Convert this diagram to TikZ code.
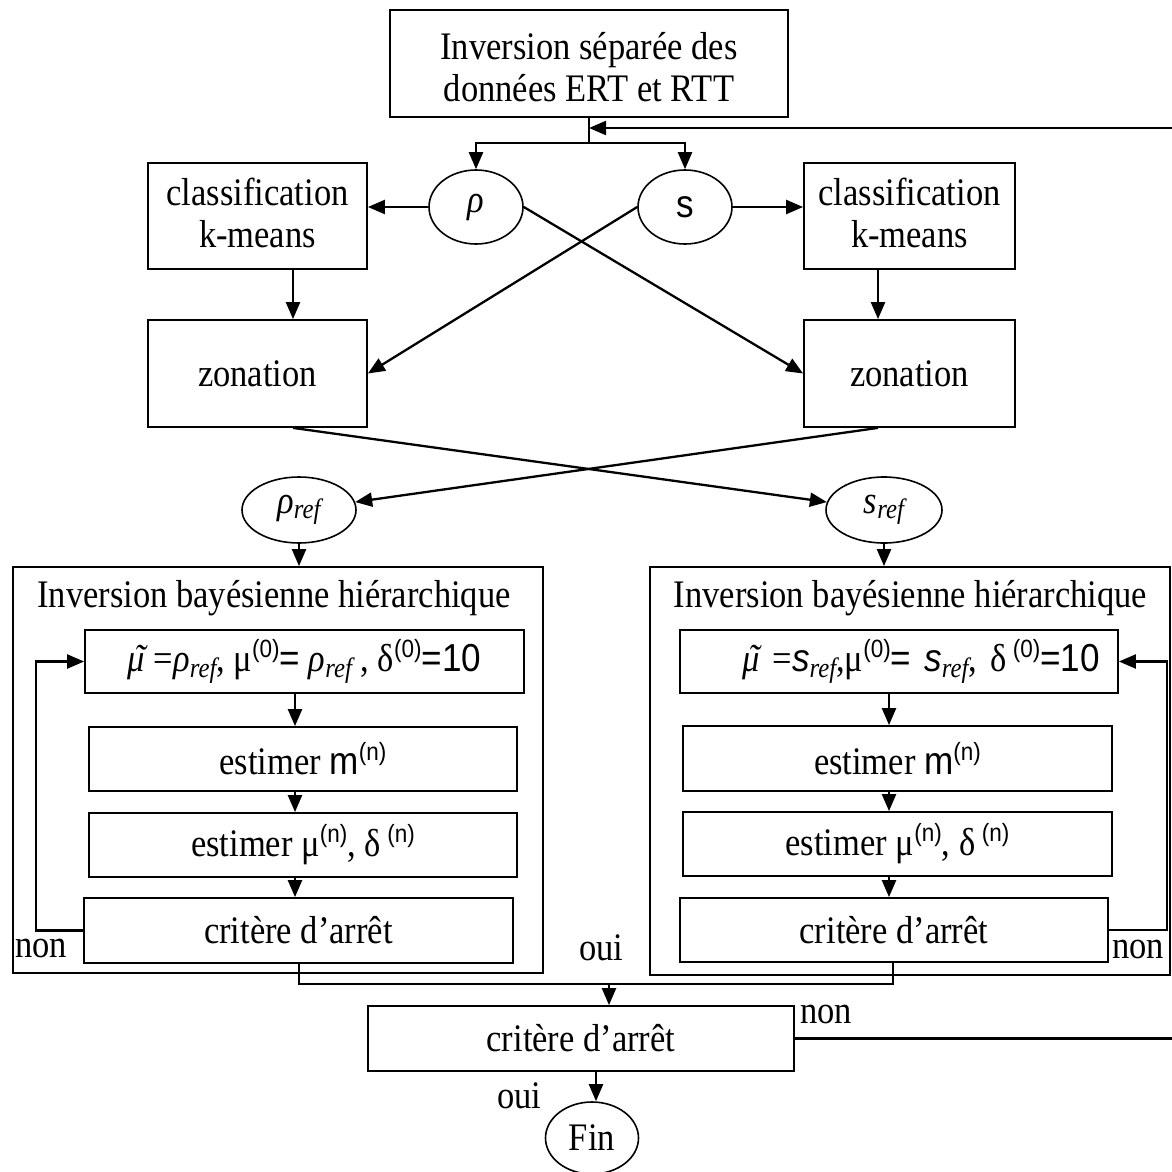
\documentclass[tikz,border=0pt]{standalone}
\usepackage{fontspec}
\setmainfont{Liberation Serif}[FakeStretch=0.885]
\newfontfamily\sansf{Liberation Sans}[FakeStretch=0.9]
\usetikzlibrary{arrows.meta,shapes.geometric,calc}
\newcommand{\rsub}[1]{\raisebox{-0.14em}{\fontsize{28}{28}\selectfont\itshape #1}}
\newcommand{\rsup}[1]{\raisebox{14pt}{\sansf\fontsize{25}{25}\selectfont #1}}
\newcommand{\tmu}{{\itshape\makebox[0pt][l]{\hspace{0.16em}\raisebox{0.02em}{\char"02DC}}μ}}
\begin{document}
\begin{tikzpicture}[x=1pt,y=-1pt,
  every node/.style={font=\fontsize{39}{42}\selectfont},
  box/.style={draw, line width=1.8pt, rectangle, inner sep=0pt, align=center},
  ell/.style={draw, line width=1.6pt, ellipse, inner sep=0pt},
  arr/.style={-{Triangle[length=17pt,width=14pt]}, line width=2.3pt},
  ln/.style={line width=2.3pt},
  lbl/.style={anchor=base west, inner sep=0pt},
  txt/.style={inner sep=0pt, align=center}
]
\fill[white] (0,0) rectangle (1172,1172);
\useasboundingbox (0,0) rectangle (1172,1172);

% boxes
\node[box, minimum width=398pt, minimum height=107pt] (top) at (589,63.5) {};
\node[txt] (topT) at ([yshift=-4pt]top.center) {Inversion séparée des\\données ERT et RTT};
\node[box, minimum width=219pt, minimum height=106pt] (classL) at (257.5,216) {};
\node[txt] (classLT) at ([yshift=3pt]classL.center) {classification\\k-means};
\node[box, minimum width=211pt, minimum height=106pt] (classR) at (909.5,216) {};
\node[txt] (classRT) at ([yshift=3pt]classR.center) {classification\\k-means};
\node[box, minimum width=219pt, minimum height=107pt] (zonL) at (257.5,373.5) {zonation};
\node[box, minimum width=211pt, minimum height=107pt] (zonR) at (909.5,373.5) {zonation};

% ellipses
\node[ell, minimum width=94pt, minimum height=74pt] (rho) at (476,207) {\itshape ρ};
\node[ell, minimum width=94pt, minimum height=74pt] (s) at (685,207) {\sansf s};
\node[ell, minimum width=114pt, minimum height=66pt] (rref) at (299,510) {\itshape ρ\rsub{ref}};
\node[ell, minimum width=116pt, minimum height=66pt] (sref) at (884,510) {\itshape s\rsub{ref}};

% big boxes
\node[box, minimum width=530pt, minimum height=406pt] (bigL) at (278,770) {};
\node[box, minimum width=520pt, minimum height=408pt] (bigR) at (910,771) {};
\node[anchor=base, inner sep=0pt] (titL) at (274,607) {Inversion bayésienne hiérarchique};
\node[anchor=base, inner sep=0pt] (titR) at (910.5,607) {Inversion bayésienne hiérarchique};

% inner left
\node[box, minimum width=439pt, minimum height=63pt] (formL) at (304.5,661.5) {\tmu{} =\textit{ρ}\rsub{ref}, μ\rsup{(0)}{\sansf =} \textit{ρ}\rsub{ref} , δ\rsup{(0)}{\sansf =10}};
\node[box, minimum width=428pt, minimum height=64pt] (estML) at (303,759) {estimer {\sansf m}\rsup{(n)}};
\node[box, minimum width=428pt, minimum height=64pt] (estDL) at (303,845) {estimer μ\rsup{(n)}, δ\,\rsup{(n)}};
\node[box, minimum width=429pt, minimum height=65pt] (critL) at (298.5,930.5) {critère d’arrêt};

% inner right
\node[box, minimum width=438pt, minimum height=63pt, text width=402pt, align=right, inner xsep=18pt] (formR) at (899,661.5) {\tmu{} ={\sansf\itshape s}\rsub{ref},μ\rsup{(0)}{\sansf = \itshape s}\rsub{ref}, δ\,\rsup{(0)}{\sansf =10}};
\node[box, minimum width=429pt, minimum height=65pt] (estMR) at (897.5,758.5) {estimer {\sansf m}\rsup{(n)}};
\node[box, minimum width=429pt, minimum height=64pt] (estDR) at (897.5,844) {estimer μ\rsup{(n)}, δ\,\rsup{(n)}};
\node[box, minimum width=428pt, minimum height=64pt] (critR) at (894,930) {critère d’arrêt};

% final
\node[box, minimum width=426pt, minimum height=65pt] (final) at (581,1038.5) {critère d’arrêt};
\node[ell, minimum width=93pt, minimum height=72pt] (fin) at (592,1138) {Fin};

% labels
\node[lbl] (nonL) at (15,957) {non};
\node[lbl] (nonR) at (1112,958) {non};
\node[lbl] (ouiM) at (579,960) {oui};
\node[lbl] (nonF) at (800,1023) {non};
\node[lbl] (ouiF) at (497,1108) {oui};

% helper coordinates
\coordinate (jn) at (589,143);
\coordinate (fb) at (589,128);
\coordinate (cL) at (295,0);
\coordinate (cR) at (889,0);
\coordinate (mL) at (299,984);
\coordinate (mR) at (893,984);
\coordinate (mC) at (609,984);
\coordinate (fc) at (596,0);

% connectors
\draw[ln] (top.south) -- (jn);
\draw[arr] (jn) -| (rho.north);
\draw[arr] (jn) -| (s.north);
\draw[arr] (final.east) -- (1177,1038.5) -- (1177,128) -- (fb);
\draw[arr] (rho.west) -- (rho.west -| classL.east);
\draw[arr] (s.east) -- (s.east -| classR.west);
\draw[arr] ([xshift=35.5pt]classL.south) -- ([xshift=35.5pt]zonL.north);
\draw[arr] ([xshift=-31.5pt]classR.south) -- ([xshift=-31.5pt]zonR.north);
\draw[arr] (rho.east) -- (zonR.west);
\draw[arr] (s.west) -- (zonL.east);
\draw[arr] ([xshift=35.5pt]zonL.south) -- (sref);
\draw[arr] ([xshift=-31.5pt]zonR.south) -- (rref);
\draw[arr] (rref.south) -- (rref.south |- bigL.north);
\draw[arr] (sref.south) -- (sref.south |- bigR.north);

\draw[arr] (formL.south -| cL) -- (estML.north -| cL);
\draw[arr] (estML.south -| cL) -- (estDL.north -| cL);
\draw[arr] (estDL.south -| cL) -- (critL.north -| cL);
\draw[arr] (formR.south -| cR) -- (estMR.north -| cR);
\draw[arr] (estMR.south -| cR) -- (estDR.north -| cR);
\draw[arr] (estDR.south -| cR) -- (critR.north -| cR);

\draw[arr] (critL.west) -- ++(-47,0) |- (formL.west);
\draw[arr] (critR.east) -- ++(58,0) |- (formR.east);

\draw[ln] (critL.south -| mL) -- (mL) -- (mR) -- (critR.south -| mR);
\draw[arr] (mC) -- (final.north -| mC);
\draw[arr] (final.south -| fc) -- (fin.north -| fc);
\end{tikzpicture}
\end{document}
